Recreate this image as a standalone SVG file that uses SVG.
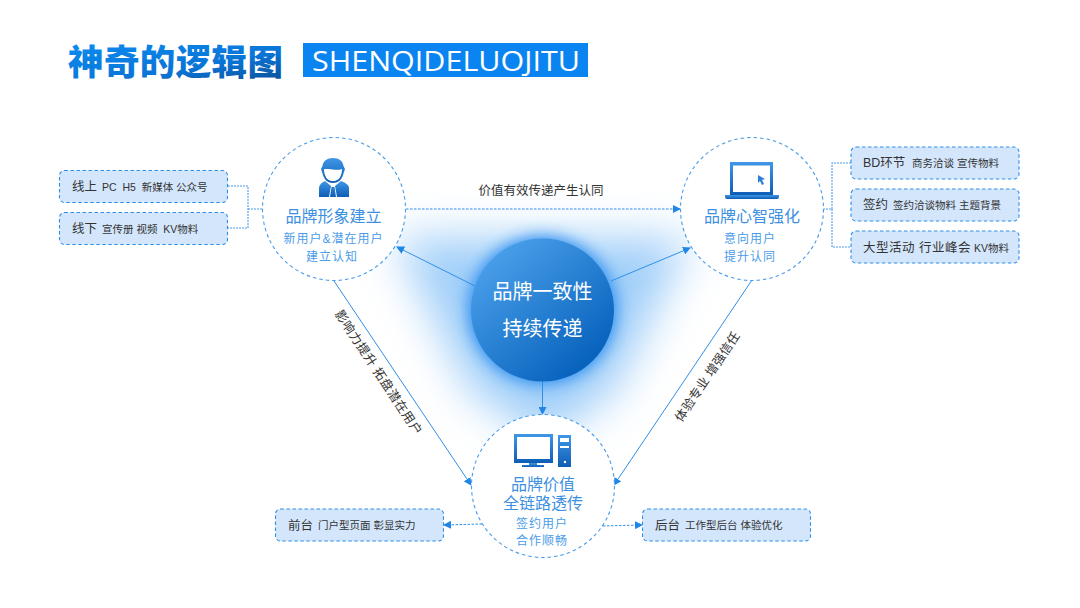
<svg xmlns="http://www.w3.org/2000/svg" width="1080" height="608" viewBox="0 0 1080 608">
<style>
text{font-family:"Liberation Sans","Noto Sans CJK SC",sans-serif}
.box{fill:#d3e6fb;stroke:#2f8fe8;stroke-width:1.1;stroke-dasharray:3.5 2.5}
.ring{fill:#fff;stroke:#4a9ce8;stroke-width:1.1;stroke-dasharray:3.5 3}
.dash{fill:none;stroke:#4a9ce8;stroke-width:1.1;stroke-dasharray:2 1}
.link{fill:none;stroke:#2f8fe8;stroke-width:1}
.t1{font-size:16px;fill:#3d90e0;text-anchor:middle}
.t2{font-size:12px;fill:#4a9ce8;text-anchor:middle;letter-spacing:1px}
.b1{font-size:12.5px;fill:#333}
.b2{font-size:10.5px;fill:#333}
.lab{font-size:12.500px;fill:#333;text-anchor:middle}
.ico{fill:url(#ig)}
</style>
<defs>
<linearGradient id="tg" x1="0" y1="0" x2="1" y2="1"><stop offset="0" stop-color="#0a8cf0"/><stop offset=".6" stop-color="#0a74d6"/><stop offset="1" stop-color="#0b4f96"/></linearGradient>
<linearGradient id="ig" x1="0" y1="0" x2="0" y2="1"><stop offset="0" stop-color="#3f97e6"/><stop offset="1" stop-color="#0f5db5"/></linearGradient>
<linearGradient id="cg" x1="0.15" y1="0.1" x2="0.85" y2="0.9"><stop offset="0" stop-color="#4a9fe9"/><stop offset="1" stop-color="#0560bb"/></linearGradient>
<filter id="blur1" x="-50%" y="-50%" width="200%" height="200%"><feGaussianBlur stdDeviation="22"/></filter>
<filter id="blur2" x="-50%" y="-50%" width="200%" height="200%"><feGaussianBlur stdDeviation="8"/></filter>
<marker id="ah" viewBox="0 0 8 8" refX="7" refY="4" markerWidth="8" markerHeight="8" markerUnits="userSpaceOnUse" orient="auto"><path d="M0 0L8 4L0 8Z" fill="#1f86e8"/></marker>
</defs>
<rect width="1080" height="608" fill="#fff"/>
<text x="68" y="75" font-size="35.500" font-weight="900" fill="url(#tg)" textLength="215">神奇的逻辑图</text>
<rect x="303" y="43" width="285" height="34" fill="#0a84f0"/>
<text x="312" y="71" font-size="27" fill="#fff" style="font-family:'Open Sans','Liberation Sans',sans-serif" textLength="268" lengthAdjust="spacingAndGlyphs">SHENQIDELUOJITU</text>

<g id="glow">
<path d="M395 238L690 238L615 390L545 440L470 390Z" fill="#7fbdf6" opacity=".75" filter="url(#blur1)"/>
<circle cx="542.500" cy="310" r="74" fill="#2a8df0" filter="url(#blur2)"/>
</g>

<g id="connectors">
<path class="link" d="M406 209H680" marker-end="url(#ah)" stroke-dasharray="2.500 1.500"/>
<path class="link" d="M475 286L397 247" marker-end="url(#ah)"/>
<path class="link" d="M611 281L690 248" marker-end="url(#ah)"/>
<path class="link" d="M542.500 381V414" marker-end="url(#ah)"/>
<path class="link" d="M334 281L471 485" marker-end="url(#ah)"/>
<path class="link" d="M752 280L614 485" marker-end="url(#ah)"/>
<path class="link" d="M482 524L444 525" marker-end="url(#ah)" stroke-dasharray="2.500 1.500"/>
<path class="link" d="M603 526L642 525" marker-end="url(#ah)" stroke-dasharray="2.500 1.500"/>
<path class="dash" d="M228 186H248V228H228M248 209H263"/>
<path class="dash" d="M823 209H832V163H851M832 209V247H851"/>
</g>

<g id="label-top"><text class="lab" x="541" y="195">价值有效传递产生认同</text></g>
<g id="label-left"><text class="lab" transform="translate(375 375) rotate(56.500)" letter-spacing=".5">影响力提升 拓盘潜在用户</text></g>
<g id="label-right"><text class="lab" transform="translate(711 379) rotate(-56)" letter-spacing=".2">体验专业 增强信任</text></g>

<g id="node-brand-image">
<circle class="ring" cx="334" cy="209" r="71.500"/>
<path class="ico" d="M333 158c6 0 10 3 10.500 8l1.500 3-2 6c-1.500 5-5 8-10 8s-8.500-3-10-8l-2-6 1.500-3c.5-5 4.500-8 10.500-8zM324 169c0 3 .5 5 1.500 7 1 3.500 4 5 7.500 5s6.500-1.500 7.500-5c1-2 1.500-4 1.500-7-3 1-6 1-9 .5s-6-.5-9-.5z" fill-rule="evenodd"/>
<path class="ico" d="M325 181l6 5-2 11h-10v-9c0-3 2-5 6-7zM341 181l-6 5 2 11h12v-9c0-3-3-5-8-7zM331.500 187h3l1.500 10h-6z"/>
<text class="t1" x="333.500" y="222">品牌形象建立</text>
<text class="t2" x="333.500" y="243">新用户&amp;潜在用户</text>
<text class="t2" x="332" y="261">建立认知</text>
</g>

<g id="node-brand-mind">
<circle class="ring" cx="752" cy="209" r="71.500"/>
<path class="ico" d="M730 162h43v33h-43zM733 165.500v26.500h37v-26.500z" fill-rule="evenodd"/>
<path class="ico" d="M725 195h54v2q0 2-2 2h-50q-2 0-2-2z"/>
<path fill="#2a7fd6" d="M758 175l7 4-3 1 2 4-2 1-2-4-2 2z"/>
<text class="t1" x="752" y="222">品牌心智强化</text>
<text class="t2" x="750" y="243">意向用户</text>
<text class="t2" x="750" y="261">提升认同</text>
</g>

<g id="node-brand-value">
<circle class="ring" cx="543" cy="486" r="71.500"/>
<path class="ico" d="M514 434h39v29h-39zM517 437v22h33v-22z" fill-rule="evenodd"/>
<path class="ico" d="M529 463h8v2h7v2h-22v-2h7z"/>
<path class="ico" d="M558 435h13v32h-13zM560 438v4h9v-4zM560 446v2h9v-2z" fill-rule="evenodd"/>
<circle cx="565" cy="462" r="1.200" fill="#fff"/>
<text class="t1"><tspan x="543" y="490">品牌价值</tspan><tspan x="543" y="509">全链路透传</tspan></text>
<text class="t2" x="542" y="528">签约用户</text>
<text class="t2" x="542" y="545">合作顺畅</text>
</g>

<g id="node-center">
<circle cx="542.500" cy="310" r="71.500" fill="url(#cg)"/>
<text x="542.500" y="299" font-size="20" fill="#fff" text-anchor="middle">品牌一致性</text>
<text x="542.500" y="336" font-size="20" fill="#fff" text-anchor="middle">持续传递</text>
</g>

<g id="box-online"><rect class="box" x="59.500" y="170.500" width="168" height="32" rx="5"/><text x="72" y="191" class="b1">线上</text><text x="102" y="191" class="b2" xml:space="preserve">PC  H5  新媒体 公众号</text></g>
<g id="box-offline"><rect class="box" x="59.500" y="212.500" width="168" height="32" rx="5"/><text x="72" y="233" class="b1">线下</text><text x="102" y="233" class="b2" xml:space="preserve">宣传册 视频  KV物料</text></g>
<g id="box-bd"><rect class="box" x="851" y="147" width="168" height="32" rx="5"/><text x="863" y="167" class="b1">BD环节</text><text x="912" y="167" class="b2">商务洽谈 宣传物料</text></g>
<g id="box-sign"><rect class="box" x="851" y="189" width="168" height="32" rx="5"/><text x="863" y="209" class="b1">签约</text><text x="893" y="209" class="b2">签约洽谈物料 主题背景</text></g>
<g id="box-event"><rect class="box" x="851" y="231" width="168" height="32" rx="5"/><text x="863" y="252" class="b1" letter-spacing=".5">大型活动 行业峰会</text><text x="974" y="252" class="b2">KV物料</text></g>
<g id="box-front"><rect class="box" x="275.500" y="509" width="168" height="32" rx="5"/><text x="288" y="530" class="b1">前台</text><text x="318" y="529" class="b2">门户型页面 彰显实力</text></g>
<g id="box-back"><rect class="box" x="642.500" y="509" width="168" height="32" rx="5"/><text x="655" y="530" class="b1">后台</text><text x="685" y="529" class="b2">工作型后台 体验优化</text></g>
</svg>
